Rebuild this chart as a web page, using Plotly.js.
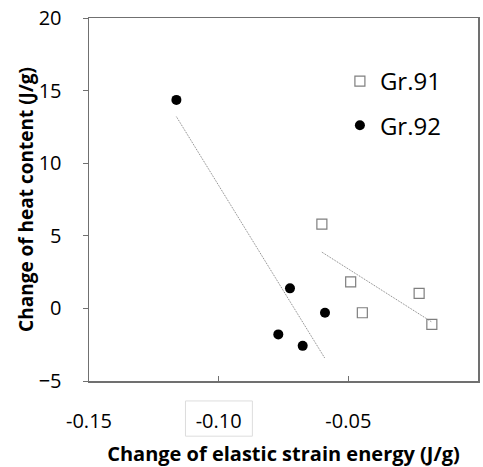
<!DOCTYPE html>
<html>
<head>
<meta charset="utf-8">
<script src="https://cdn.plot.ly/plotly-3.0.1.min.js"></script>
<style>html,body{margin:0;padding:0;background:#fff;}#chart{width:483px;height:467px;}</style>
</head>
<body>
<div id="chart"></div>
<script>
// Data
const gr91X = [-0.0602, -0.0491, -0.0446, -0.0227, -0.0178];
const gr91Y = [5.81, 1.83, -0.30, 1.03, -1.10];
const gr92X = [-0.1163, -0.0725, -0.0590, -0.0770, -0.0676];
const gr92Y = [14.36, 1.38, -0.30, -1.79, -2.58];
const seriesNames = ['Gr.91', 'Gr.92'];
const xTickVals = [-0.15, -0.10, -0.05, 0];
const xTickText = ['-0.15', '-0.10', '-0.05', '0'];
const yTickVals = [-5, 0, 5, 10, 15, 20];

// Linear least-squares trendline over the data's x-range
function trend(xs, ys) {
  const n = xs.length;
  const mx = xs.reduce((a, b) => a + b, 0) / n;
  const my = ys.reduce((a, b) => a + b, 0) / n;
  let sxy = 0, sxx = 0;
  for (let i = 0; i < n; i++) { sxy += (xs[i] - mx) * (ys[i] - my); sxx += (xs[i] - mx) ** 2; }
  const m = sxy / sxx, b = my - m * mx;
  const lo = Math.min(...xs), hi = Math.max(...xs);
  return { x: [lo, hi], y: [m * lo + b, m * hi + b] };
}
const t91 = trend(gr91X, gr91Y);
const t92 = trend(gr92X, gr92Y);

const font = '"Open Sans", "Noto Sans", "DejaVu Sans", sans-serif';

const traces = [
  { x: t92.x, y: t92.y, mode: 'lines', showlegend: false, hoverinfo: 'skip',
    line: { color: '#808080', width: 1, dash: '1px,1px' } },
  { x: t91.x, y: t91.y, mode: 'lines', showlegend: false, hoverinfo: 'skip',
    line: { color: '#808080', width: 1, dash: '1px,1px' } },
  { x: gr91X, y: gr91Y, mode: 'markers', name: seriesNames[0], type: 'scatter', legendgroup: 'g91',
    marker: { symbol: 'square-open', size: 10, color: '#7f7f7f', line: { width: 1.2, color: '#7f7f7f' } } },
  { x: gr92X, y: gr92Y, mode: 'markers', name: seriesNames[1], type: 'scatter', legendgroup: 'g92',
    marker: { symbol: 'circle', size: 10, color: '#000000' } }
];

const layout = {
  width: 483, height: 467,
  margin: { l: 89, r: 5, t: 18, b: 86 },
  paper_bgcolor: '#ffffff', plot_bgcolor: '#ffffff',
  font: { family: font, color: '#000000', size: 16 },
  showlegend: true,
  legend: {
    x: 0.645, y: 0.887, xanchor: 'left', yanchor: 'top',
    bgcolor: 'rgba(0,0,0,0)', borderwidth: 0,
    font: { size: 24, family: font, color: '#000' },
    itemwidth: 30, tracegroupgap: 10
  },
  xaxis: {
    range: [-0.15, 0], tickvals: xTickVals, ticktext: xTickText,
    ticks: 'inside', ticklen: 5, tickcolor: '#707070', tickwidth: 1,
    showgrid: false, zeroline: false,
    showline: true, linecolor: '#707070', linewidth: 1.5, mirror: true,
    ticklabelstandoff: 21,
    tickfont: { size: 20, family: font, color: '#000' },
    title: { text: '<b>Change of elastic strain energy (J/g)</b>', font: { size: 20, family: font, color: '#000' }, standoff: 17 }
  },
  yaxis: {
    range: [-5, 20], tickvals: yTickVals,
    ticks: 'outside', ticklen: 5, tickcolor: '#707070', tickwidth: 1,
    showgrid: false, zeroline: false,
    showline: true, linecolor: '#707070', linewidth: 1.5, mirror: true,
    ticklabelstandoff: 17,
    tickfont: { size: 20, family: font, color: '#000' },
    title: { text: '<b>Change of heat content (J/g)</b>', font: { size: 19, family: font, color: '#000' }, standoff: 0 }
  },
  shapes: [
    { type: 'rect', xref: 'paper', yref: 'paper', x0: 0.248, x1: 0.42, y0: -0.152, y1: -0.055,
      line: { color: '#dddddd', width: 1 }, fillcolor: 'rgba(0,0,0,0)', layer: 'below' }
  ]
};

Plotly.newPlot('chart', traces, layout, { displayModeBar: false, staticPlot: true });
</script>
</body>
</html>
